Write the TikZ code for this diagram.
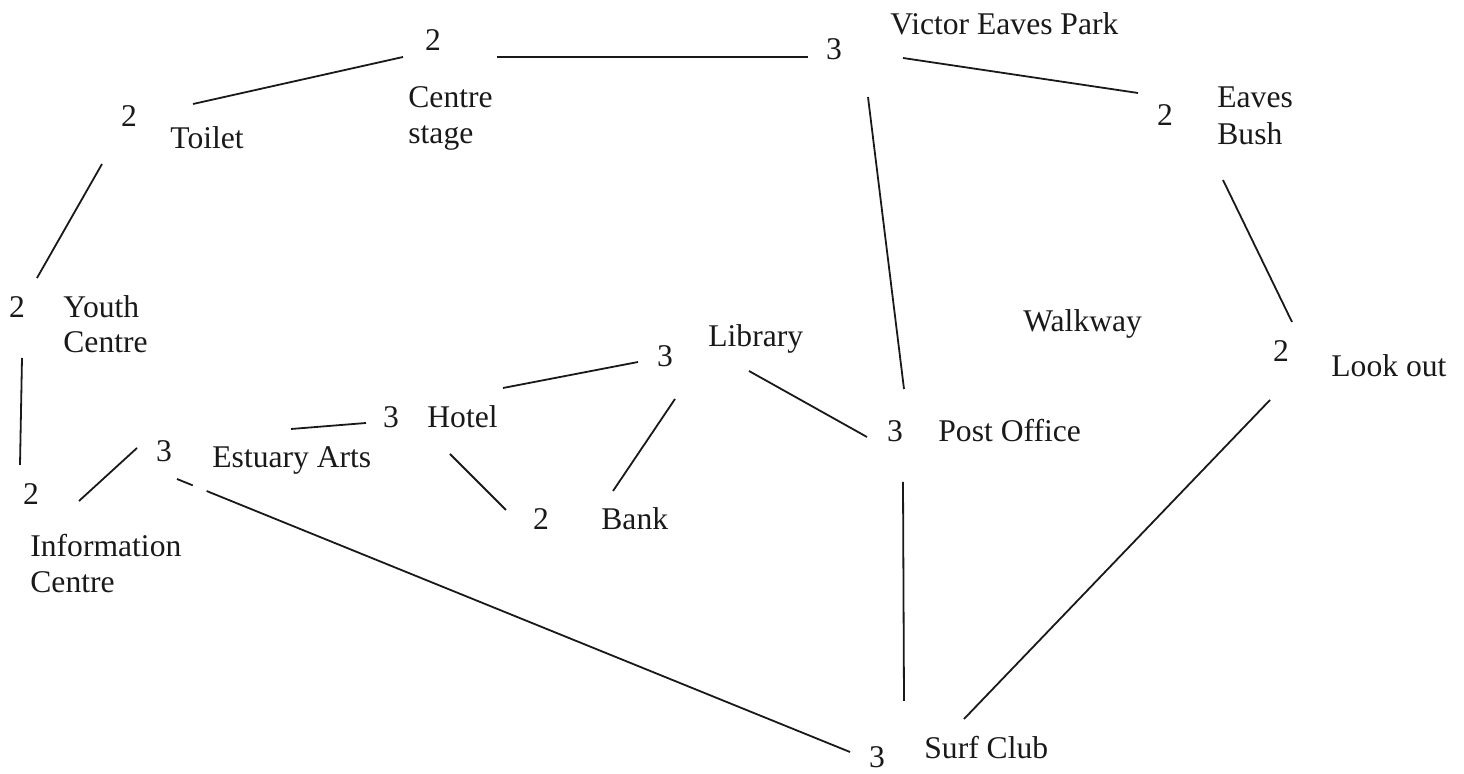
\documentclass[tikz,border=0pt]{standalone}
\usepackage{fontspec}
\setmainfont{Liberation Serif}
\begin{document}
\begin{tikzpicture}[x=0.5pt,y=-0.5pt,
  lbl/.style={anchor=base west,inner sep=0pt,text=black!90,font=\fontsize{15.8}{18}\selectfont},
  num/.style={anchor=base,inner sep=0pt,text=black!90,font=\fontsize{15.8}{18}\selectfont},
  link/.style={line width=0.9pt,black!90}]
\useasboundingbox (0,0) rectangle (1464,774);

% ---- places: count of paths, then name ----
\node[num] (toilet)  at (129,127) {2};
\node[lbl] (toiletL) at (170,149) {Toilet};

\node[num] (centre)   at (433,51) {2};
\node[lbl] (centreL1) at (408,108) {Centre};
\node[lbl] (centreL2) at (408,144) {stage};

\node[num] (vep)  at (834,60) {3};
\node[lbl] (vepL) at (890,35) {Victor Eaves Park};

\node[num] (eaves)   at (1165,126) {2};
\node[lbl] (eavesL1) at (1217,108) {Eaves};
\node[lbl] (eavesL2) at (1217,145) {Bush};

\node[num] (youth)   at (17,318) {2};
\node[lbl] (youthL1) at (63,318) {Youth};
\node[lbl] (youthL2) at (63,353) {Centre};

\node[num] (info)   at (31,505) {2};
\node[lbl] (infoL1) at (30,557) {Information};
\node[lbl] (infoL2) at (30,593) {Centre};

\node[num] (estuary)  at (164,462) {3};
\node[lbl] (estuaryL) at (212,468) {Estuary Arts};

\node[num] (hotel)  at (391,428) {3};
\node[lbl] (hotelL) at (427,428) {Hotel};

\node[num] (library)  at (665,367) {3};
\node[lbl] (libraryL) at (708,347) {Library};

\node[num] (bank)  at (541,530) {2};
\node[lbl] (bankL) at (601,530) {Bank};

\node[num] (post)  at (895,442) {3};
\node[lbl] (postL) at (938,442) {Post Office};

\node[lbl] (walkway) at (1023,332) {Walkway};

\node[num] (lookout)  at (1281,362) {2};
\node[lbl] (lookoutL) at (1331,377) {Look out};

\node[num] (surf)  at (877,768) {3};
\node[lbl] (surfL) at (924,759) {Surf Club};

% ---- path ends ----
\coordinate (toilet-ne)  at (193,104);
\coordinate (centre-w)   at (403,57);
\coordinate (centre-e)   at (497,57);
\coordinate (vep-w)      at (808,57);
\coordinate (vep-e)      at (903,58);
\coordinate (eaves-w)    at (1138,93);
\coordinate (vep-s)      at (868,97);
\coordinate (post-n)     at (904,389);
\coordinate (eaves-s)    at (1223,180);
\coordinate (lookout-n)  at (1292,322);
\coordinate (toilet-sw)  at (102,164);
\coordinate (youth-n)    at (37,278);
\coordinate (youth-s)    at (22,358);
\coordinate (info-n)     at (20,465);
\coordinate (info-ne)    at (79,501);
\coordinate (estuary-w)  at (137,448);
\coordinate (estuary-ne) at (291,429);
\coordinate (hotel-w)    at (366,423);
\coordinate (hotel-ne)   at (503,388);
\coordinate (library-w)  at (638,362);
\coordinate (hotel-se)   at (450,454);
\coordinate (bank-nw)    at (506,510);
\coordinate (library-s)  at (675,399);
\coordinate (bank-ne)    at (613,491);
\coordinate (library-se) at (749,371);
\coordinate (post-w)     at (867,437);
\coordinate (post-s)     at (903,482);
\coordinate (surf-n)     at (904,701);
\coordinate (lookout-s)  at (1270,400);
\coordinate (surf-ne)    at (964,719);
\coordinate (estuary-se) at (177,479);
\coordinate (surf-w)     at (850,752);

% ---- walking paths ----
\draw[link] (toilet-ne) -- (centre-w);
\draw[link] (centre-e) -- (vep-w);
\draw[link] (vep-e) -- (eaves-w);
\draw[link] (vep-s) -- (post-n);
\draw[link] (eaves-s) -- (lookout-n);
\draw[link] (toilet-sw) -- (youth-n);
\draw[link] (youth-s) -- (info-n);
\draw[link] (info-ne) -- (estuary-w);
\draw[link] (estuary-ne) -- (hotel-w);
\draw[link] (hotel-ne) -- (library-w);
\draw[link] (hotel-se) -- (bank-nw);
\draw[link] (library-s) -- (bank-ne);
\draw[link] (library-se) -- (post-w);
\draw[link] (post-s) -- (surf-n);
\draw[link] (lookout-s) -- (surf-ne);
\draw[link,dash pattern=on 8.5pt off 7.5pt on 2000pt] (estuary-se) -- (surf-w);
\end{tikzpicture}
\end{document}
